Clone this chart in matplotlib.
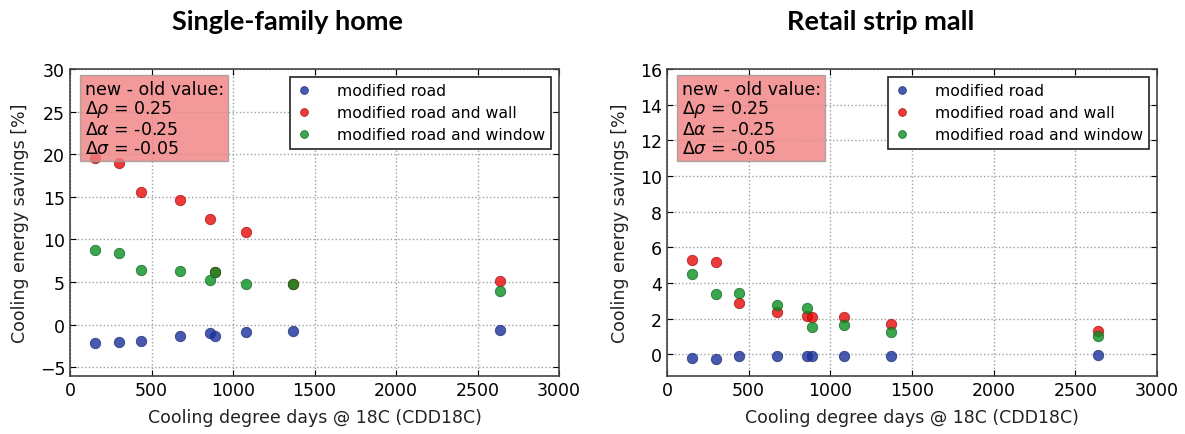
import matplotlib
matplotlib.use("Agg")
import matplotlib.pyplot as plt

# CDD18C of the cities (shared by both panels)
cdd = [152, 300, 438, 673, 857, 887, 1081, 1369, 2641]

# Single-family home
home_road = [-2.2, -2.1, -1.9, -1.3, -1.0, -1.3, -0.9, -0.8, -0.6]
home_wall = [19.6, 19.0, 15.6, 14.6, 12.4, 6.2, 10.9, 4.8, 5.1]
home_window = [8.7, 8.4, 6.4, 6.3, 5.2, 6.2, 4.8, 4.8, 3.9]

# Retail strip mall
mall_road = [-0.21, -0.26, -0.11, -0.09, -0.09, -0.09, -0.09, -0.07, -0.06]
mall_wall = [5.27, 5.18, 2.88, 2.37, 2.17, 2.07, 2.07, 1.70, 1.33]
mall_window = [4.50, 3.38, 3.42, 2.79, 2.58, 1.55, 1.64, 1.25, 1.05]

titles = ["Single-family home", "Retail strip mall"]
series_labels = ["modified road", "modified road and wall", "modified road and window"]
xticks = [0, 500, 1000, 1500, 2000, 2500, 3000]
yticks_home = [-5, 0, 5, 10, 15, 20, 25, 30]
yticks_mall = [0, 2, 4, 6, 8, 10, 12, 14, 16]
box_text = "new - old value:\n$\\Delta\\rho$ = 0.25\n$\\Delta\\alpha$ = -0.25\n$\\Delta\\sigma$ = -0.05"

colors = ["#1a319b", "#e80808", "#089020"]
edges = ["#1a2a70", "#a01010", "#106020"]

fig = plt.figure(figsize=(11.85, 4.35), dpi=100)
ax1 = fig.add_axes([70 / 1185, 1 - 376.7 / 435, 489 / 1185, 306.7 / 435])
ax2 = fig.add_axes([667 / 1185, 1 - 376.7 / 435, 490 / 1185, 306.7 / 435])

panels = [
    (ax1, [home_road, home_wall, home_window], (-6, 30), yticks_home, 288, titles[0]),
    (ax2, [mall_road, mall_wall, mall_window], (-1.2, 16), yticks_mall, 881, titles[1]),
]

for ax, data, ylim, yticks, tx, title in panels:
    for vals, c, ec, lab in zip(data, colors, edges, series_labels):
        ax.plot(cdd, vals, linestyle="none", marker="o", markersize=7.5,
                markerfacecolor=c, markeredgecolor=ec, markeredgewidth=0.6,
                alpha=0.8, label=lab)
    ax.set_xlim(0, 3000)
    ax.set_ylim(*ylim)
    ax.set_xticks(xticks)
    ax.set_yticks(yticks)
    ax.grid(True, linestyle=":", color="#a0a0a0", linewidth=1)
    ax.tick_params(direction="in", top=True, right=True, labelsize=12.5,
                   length=4, width=0.8)
    for s in ax.spines.values():
        s.set_color("#444444")
        s.set_linewidth(1.2)
    ax.set_xlabel("Cooling degree days @ 18C (CDD18C)", fontsize=12.5, labelpad=7,
                  color="#222222")
    ax.set_ylabel("Cooling energy savings [%]", fontsize=12.5, labelpad=8,
                  color="#222222")
    leg = ax.legend(loc="upper right", numpoints=1, fontsize=11.3, fancybox=False,
                    framealpha=1, edgecolor="#222222", handletextpad=1.6,
                    borderaxespad=0.5, labelspacing=0.45, handlelength=1.0,
                    markerscale=0.75)
    leg.get_frame().set_linewidth(1.2)
    ax.text(0.03, 0.965, box_text, transform=ax.transAxes, ha="left", va="top",
            fontsize=12.5, linespacing=1.05,
            bbox=dict(boxstyle="square,pad=0.25", facecolor="lightcoral",
                      edgecolor="#999999", alpha=0.8))
    fig.text(tx / 1185, 1 - 22 / 435, title,
             ha="center", va="center", fontsize=19.5, fontweight="bold",
             family=["Lato", "DejaVu Sans"])

fig.savefig("out.png", dpi=100)
